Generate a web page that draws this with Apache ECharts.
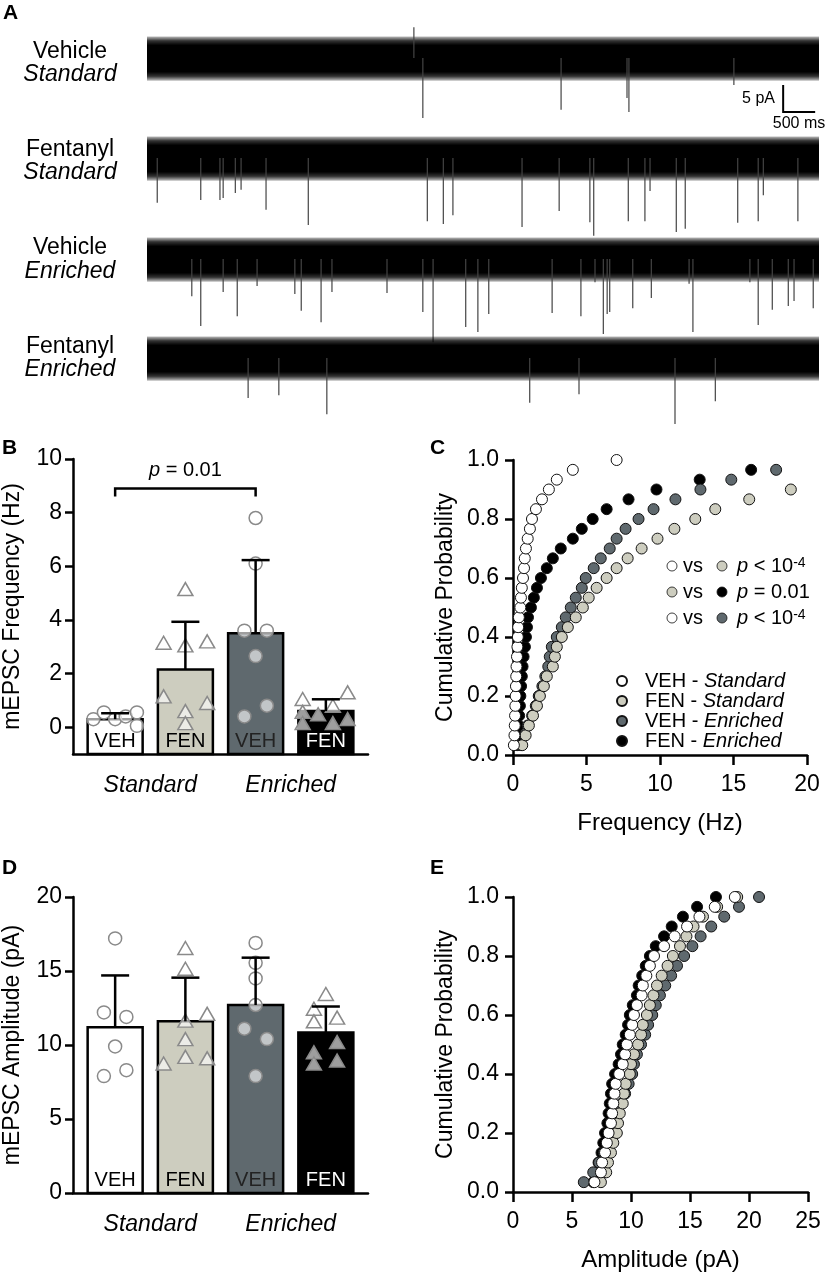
<!DOCTYPE html>
<html>
<head>
<meta charset="utf-8">
<script src="https://cdn.jsdelivr.net/npm/echarts@6.0.0/dist/echarts.min.js"></script>
<style>
  html, body { margin: 0; padding: 0; background: #fff; }
  #chart { width: 828px; height: 1276px; }
</style>
</head>
<body>
<div id="chart"></div>
<script>
// ---- panel A: example traces (time s, amplitude pA; negative = inward event) ----
const traceLength = 10.5;
const traceNames = [['Vehicle', 'Standard'], ['Fentanyl', 'Standard'], ['Vehicle', 'Enriched'], ['Fentanyl', 'Enriched']];
const traceVehStd = [[4.17, 5.7], [4.31, -11.1], [6.47, -9.6], [7.50, -7.4], [7.53, -10.0], [9.17, -5.0]];
const traceFenStd = [[0.16, -8.3], [0.84, -7.8], [1.14, -7.8], [1.19, -7.4], [1.38, -6.5], [1.47, -5.9], [1.86, -9.6],
  [2.52, -12.4], [4.38, -11.7], [4.63, -12.2], [4.78, -10.6], [5.86, -12.8], [6.44, -9.8], [6.92, -11.9], [6.98, -14.4],
  [7.52, -11.7], [7.78, -11.7], [7.86, -6.1], [8.27, -13.7], [8.41, -13.1], [9.23, -12.0], [9.55, -11.7], [9.63, -6.9], [10.17, -11.7]];
const traceVehEnr = [[0.70, -6.9], [0.84, -12.4], [1.19, -6.1], [1.41, -10.6], [1.72, -5.0], [2.31, -6.5], [2.41, -9.6],
  [2.72, -11.7], [2.89, -6.1], [3.75, -6.3], [4.31, -9.8], [4.47, -15.4], [4.98, -12.6], [5.17, -13.5], [5.34, -10.2],
  [6.33, -10.0], [6.78, -10.6], [7.00, -4.3], [7.13, -13.9], [7.19, -10.2], [7.23, -9.8], [7.59, -9.1], [7.88, -7.2],
  [8.47, -4.6], [8.53, -13.5], [9.42, -4.3], [9.55, -12.2], [9.77, -9.4], [10.02, -8.7], [10.11, -7.8], [10.41, -9.1]];
const traceFenEnr = [[1.58, -7.4], [2.06, -6.9], [2.81, -10.4], [5.98, -8.3], [6.75, -6.7], [8.25, -12.2], [8.88, -8.0]];
const scaleBarStart = [9.94, -10.0];
const scaleBarSize = [0.5, 5]; // 500 ms, 5 pA

// ---- panels B / D: per-cell values ----
const groups = ['VEH', 'FEN', 'VEH', 'FEN'];
const housing = ['Standard', 'Enriched'];
const freqMean = [0.3, 2.15, 3.5, 0.6];
const freqSD = [0.22, 1.78, 2.73, 0.44];
const freqVehStd = [0.3, 0.55, 0.3, 0.4, 0.55, 0.05];
const freqFenStd = [5.15, 3.15, 3.05, 3.2, 1.15, 0.6, 0.15, 0.9];
const freqVehEnr = [7.8, 6.1, 3.6, 3.6, 2.65, 0.4, 0.8];
const freqFenEnr = [1.05, 1.3, 0.57, 0.48, 0.8, 0.15, 0.15, 0.3];
const freqJitter = [[-0.31, -0.16, 0, 0.15, 0.31, 0.31], [0, -0.31, 0, 0.31, -0.31, 0, 0, 0.31],
  [0, 0, -0.16, 0.16, 0, -0.16, 0.16], [-0.33, 0.31, -0.33, -0.11, 0.1, -0.33, 0.1, 0.31]];
const ampMean = [11.2, 11.6, 12.7, 10.85];
const ampSD = [3.5, 2.95, 3.2, 1.75];
const ampVehStd = [17.2, 12.2, 11.9, 9.9, 7.9, 8.3];
const ampFenStd = [16.55, 15.15, 12.1, 11.65, 10.4, 8.75, 9.2, 9.1];
const ampVehEnr = [16.9, 15.55, 14.5, 12.7, 11.1, 10.4, 7.9];
const ampFenEnr = [13.45, 12.45, 11.85, 11.6, 10.2, 9.5, 8.75, 8.95];
const ampJitter = [[0, -0.16, 0.16, 0, -0.16, 0.16], [0, 0, 0.31, 0, 0, -0.31, 0, 0.31],
  [0, 0, 0, 0, -0.16, 0.16, 0], [0, -0.17, 0.16, -0.17, 0.16, -0.17, -0.17, 0.16]];
const freqSig = { from: 0, to: 2, text: '{i|p} = 0.01' };

// ---- panels C / E: cumulative distributions, level k/30 ----
const nLevels = 30;
const cumFreqVehStd = [0.06, 0.1, 0.12, 0.14, 0.16, 0.18, 0.2, 0.22, 0.24, 0.27, 0.3, 0.33, 0.35, 0.4, 0.5, 0.54, 0.6, 0.68,
  0.75, 0.8, 0.88, 1.0, 1.15, 1.29, 1.56, 1.97, 2.44, 2.98, 4.07, 7.05];
const cumFreqFenStd = [0.63, 0.86, 1.08, 1.36, 1.63, 1.83, 2.1, 2.3, 2.71, 2.85, 2.98, 3.32, 3.73, 4.27, 4.75, 5.15, 5.69,
  6.37, 7.05, 7.8, 8.75, 9.83, 10.98, 12.4, 13.76, 16.07, 18.9];
const cumFreqVehEnr = [0.55, 0.8, 1.0, 1.3, 1.55, 1.75, 2.0, 2.2, 2.4, 2.5, 2.64, 2.98, 3.32, 3.59, 3.93, 4.27, 4.68, 4.95,
  5.49, 5.97, 6.58, 7.05, 7.66, 8.54, 9.56, 11.05, 12.75, 14.85, 17.9];
const cumFreqFenEnr = [0.28, 0.33, 0.38, 0.42, 0.47, 0.5, 0.55, 0.6, 0.65, 0.72, 0.81, 0.88, 0.95, 1.02, 1.22, 1.42, 1.63,
  1.9, 2.3, 2.71, 3.25, 4.07, 4.68, 5.42, 6.37, 7.86, 9.76, 12.7, 16.2];
const cumAmpVehStd = [6.9, 7.45, 7.55, 7.8, 7.95, 8.1, 8.3, 8.4, 8.5, 8.6, 8.7, 9.0, 9.3, 9.5, 9.65, 9.9, 10.1, 10.25, 10.5,
  10.9, 11.0, 11.3, 11.6, 11.95, 12.8, 13.7, 14.75, 15.8, 17.1, 18.8];
const cumAmpFenStd = [7.45, 7.9, 8.05, 8.3, 8.5, 8.8, 8.9, 9.05, 9.3, 9.4, 9.55, 9.9, 10.0, 10.25, 10.6, 10.85, 11.0, 11.35,
  11.6, 11.9, 12.2, 12.6, 13.1, 13.55, 14.15, 14.7, 15.3, 16.1, 17.3, 19.0];
const cumAmpVehEnr = [6.0, 6.8, 7.3, 7.7, 8.0, 8.3, 8.6, 8.9, 9.2, 9.5, 9.8, 10.1, 10.25, 10.5, 10.85, 11.2, 11.45, 11.8,
  12.1, 12.45, 12.9, 13.4, 13.9, 14.5, 15.2, 15.9, 16.8, 17.9, 19.15, 20.85];
const cumAmpFenEnr = [6.8, 7.15, 7.25, 7.5, 7.65, 7.8, 8.0, 8.1, 8.2, 8.3, 8.4, 8.65, 8.95, 9.15, 9.3, 9.55, 9.75, 9.9,
  10.15, 10.5, 10.65, 10.95, 11.25, 11.6, 12.1, 12.8, 13.45, 14.4, 15.6, 17.2];
const seriesNames = ['VEH - Standard', 'FEN - Standard', 'VEH - Enriched', 'FEN - Enriched'];
const statRows = [
  { a: 0, b: 1, text: '{i|p} < 10{s|-4}' },
  { a: 1, b: 3, text: '{i|p} = 0.01' },
  { a: 0, b: 2, text: '{i|p} < 10{s|-4}' }
];

const FONT = '"Liberation Sans", Arial, sans-serif';
const fills = ['#ffffff', '#cdcdbf', '#5f696e', '#000000'];
const barText = ['#000', '#000', '#222', '#fff'];
const AXIS = { color: '#000', width: 2.5 };

const chart = echarts.init(document.getElementById('chart'), null, { renderer: 'canvas' });

// ---- trace helpers ----
const traceTops = [31, 131, 232, 331];
const traceSpikes = [traceVehStd, traceFenStd, traceVehEnr, traceFenEnr];
const bandFill = new echarts.graphic.LinearGradient(0, 0, 0, 1, [
  { offset: 0, color: 'rgba(0,0,0,0.25)' },
  { offset: 0.1, color: 'rgba(0,0,0,0.8)' },
  { offset: 0.2, color: '#000' },
  { offset: 0.8, color: '#000' },
  { offset: 0.9, color: 'rgba(0,0,0,0.8)' },
  { offset: 1, color: 'rgba(0,0,0,0.25)' }
]);

function traceSeries(i, spikes) {
  const out = [{
    type: 'custom', xAxisIndex: i, yAxisIndex: i, silent: true,
    data: [[0, traceLength]],
    renderItem: (params, api) => {
      const a = api.coord([api.value(0), 4.0]);
      const b = api.coord([api.value(1), -4.2]);
      return { type: 'rect', shape: { x: a[0], y: a[1], width: b[0] - a[0], height: b[1] - a[1] }, style: { fill: bandFill } };
    }
  }, {
    type: 'custom', xAxisIndex: i, yAxisIndex: i, silent: true,
    data: spikes,
    renderItem: (params, api) => {
      const p0 = api.coord([api.value(0), 0]);
      const p1 = api.coord([api.value(0), api.value(1)]);
      return { type: 'line', shape: { x1: p0[0], y1: p0[1], x2: p1[0], y2: p1[1] }, style: { stroke: '#444', lineWidth: 1.2 } };
    }
  }];
  if (i === 0) {
    out.push({
      type: 'custom', xAxisIndex: 0, yAxisIndex: 0, silent: true,
      data: [[scaleBarStart[0], scaleBarStart[1], scaleBarSize[0], scaleBarSize[1]]],
      renderItem: (params, api) => {
        const t = api.value(0), y = api.value(1);
        const c = api.coord([t, y]);
        const up = api.coord([t, y + api.value(3)]);
        const rt = api.coord([t + api.value(2), y]);
        return { type: 'polyline', shape: { points: [up, c, rt] }, style: { stroke: '#000', lineWidth: 2, fill: null } };
      }
    });
  }
  return out;
}

// ---- bar helpers ----
function barSeries(idx, means, sds, yBase) {
  return {
    type: 'custom', xAxisIndex: idx, yAxisIndex: idx, silent: true, z: 1,
    data: means.map((m, i) => [i, m, sds[i]]),
    renderItem: (params, api) => {
      const i = params.dataIndex;
      const base = api.coord([api.value(0), yBase]);
      const top = api.coord([api.value(0), api.value(1)]);
      const w = 55;
      return {
        type: 'group', children: [
          { type: 'rect', shape: { x: base[0] - w / 2, y: top[1], width: w, height: base[1] - top[1] },
            style: { fill: fills[i], stroke: '#000', lineWidth: 2.5 } },
          { type: 'text', style: { text: groups[i], x: base[0], y: base[1] - 3, align: 'center', verticalAlign: 'bottom',
            textAlign: 'center', textVerticalAlign: 'bottom', fill: barText[i], font: '20px ' + FONT } }
        ]
      };
    }
  };
}
function errSeries(idx, means, sds) {
  return {
    type: 'custom', xAxisIndex: idx, yAxisIndex: idx, silent: true, z: 3,
    data: means.map((m, i) => [i, m, sds[i]]),
    renderItem: (params, api) => {
      const x = api.value(0), m = api.value(1), s = api.value(2);
      const p0 = api.coord([x, m]);
      const p1 = api.coord([x, m + s]);
      return {
        type: 'group', children: [
          { type: 'line', shape: { x1: p0[0], y1: p0[1], x2: p1[0], y2: p1[1] }, style: { stroke: '#000', lineWidth: 2.5 } },
          { type: 'line', shape: { x1: p1[0] - 14, y1: p1[1], x2: p1[0] + 14, y2: p1[1] }, style: { stroke: '#000', lineWidth: 2.5 } }
        ]
      };
    }
  };
}
function dotSeries(idx, sets, jitters) {
  return sets.map((vals, g) => ({
    type: 'scatter', xAxisIndex: idx, yAxisIndex: idx, silent: true, z: 2,
    symbol: g % 2 === 0 ? 'circle' : 'triangle',
    symbolSize: g % 2 === 0 ? 13 : [15, 13],
    itemStyle: { color: 'rgba(255,255,255,0.62)', borderColor: '#8a8a8a', borderWidth: 1.5, opacity: 1 },
    data: vals.map((v, k) => [g + jitters[g][k], v])
  }));
}
function cumSeries(idx, sets) {
  // draw order: black, grey, beige, white on top
  return [3, 2, 1, 0].map(g => ({
    type: 'scatter', name: seriesNames[g], xAxisIndex: idx, yAxisIndex: idx, silent: true,
    symbol: 'circle', symbolSize: 11,
    itemStyle: { color: fills[g], borderColor: '#111', borderWidth: 1, opacity: 1 },
    data: sets[g].map((v, k) => [v, (k + 1) / nLevels])
  }));
}

// ---- axes ----
const grids = [];
const xAxes = [];
const yAxes = [];
traceTops.forEach((top, i) => {
  grids.push({ left: 147, top, width: 672, height: 113.4 });
  xAxes.push({ gridIndex: i, type: 'value', min: 0, max: traceLength, show: false });
  yAxes.push({ gridIndex: i, type: 'value', min: -16, max: 5, show: false });
});

const tickLab = { color: '#000', fontSize: 23, fontFamily: FONT };
function barXAxis(gi) {
  return {
    gridIndex: gi, type: 'value', min: -0.6, max: 3.6,
    axisLine: { show: true, onZero: false, lineStyle: AXIS },
    axisTick: { show: false }, splitLine: { show: false },
    axisLabel: { customValues: [0.5, 2.5], formatter: v => (v < 1.5 ? housing[0] : housing[1]),
      fontStyle: 'italic', color: '#000', fontSize: 23, fontFamily: FONT, margin: 20 }
  };
}
function barYAxis(gi, min, max, ticks, name) {
  return {
    gridIndex: gi, type: 'value', min, max,
    axisLine: { show: true, onZero: false, lineStyle: AXIS },
    axisTick: { show: true, length: 8, customValues: ticks, lineStyle: AXIS },
    axisLabel: Object.assign({ customValues: ticks, margin: 11 }, tickLab),
    splitLine: { show: false },
    name, nameLocation: 'middle', nameGap: 49,
    nameTextStyle: { color: '#000', fontSize: 23, fontFamily: FONT }
  };
}
function cumXAxis(gi, max, name) {
  return {
    gridIndex: gi, type: 'value', min: 0, max, interval: 5,
    axisLine: { show: true, lineStyle: AXIS },
    axisTick: { show: true, length: 10, lineStyle: AXIS },
    axisLabel: Object.assign({ margin: 18 }, tickLab),
    splitLine: { show: false },
    name, nameLocation: 'middle', nameGap: 56,
    nameTextStyle: { color: '#000', fontSize: 24, fontFamily: FONT }
  };
}
function cumYAxis(gi) {
  return {
    gridIndex: gi, type: 'value', min: 0, max: 1, interval: 0.2,
    axisLine: { show: true, lineStyle: AXIS },
    axisTick: { show: true, length: 8, lineStyle: AXIS },
    axisLabel: Object.assign({ margin: 14, formatter: v => v.toFixed(1) }, tickLab),
    splitLine: { show: false },
    name: 'Cumulative Probability', nameLocation: 'middle', nameGap: 56,
    nameTextStyle: { color: '#000', fontSize: 23, fontFamily: FONT }
  };
}

grids.push({ left: 73, top: 459, width: 295, height: 295 });   // 4: B
grids.push({ left: 513, top: 460, width: 294, height: 295 });  // 5: C
grids.push({ left: 73, top: 897, width: 295, height: 296 });   // 6: D
grids.push({ left: 513, top: 897, width: 295, height: 295 });  // 7: E
xAxes.push(barXAxis(4), cumXAxis(5, 20, 'Frequency (Hz)'), barXAxis(6), cumXAxis(7, 25, 'Amplitude (pA)'));
yAxes.push(barYAxis(4, -1, 10, [0, 2, 4, 6, 8, 10], 'mEPSC Frequency (Hz)'), cumYAxis(5),
  barYAxis(6, 0, 20, [0, 5, 10, 15, 20], 'mEPSC Amplitude (pA)'), cumYAxis(7));

// ---- series ----
let series = [];
traceSpikes.forEach((sp, i) => { series = series.concat(traceSeries(i, sp)); });
series.push(barSeries(4, freqMean, freqSD, -1));
series = series.concat(dotSeries(4, [freqVehStd, freqFenStd, freqVehEnr, freqFenEnr], freqJitter));
series.push(errSeries(4, freqMean, freqSD));
series.push({
  type: 'custom', xAxisIndex: 4, yAxisIndex: 4, silent: true, z: 3,
  data: [[freqSig.from, freqSig.to, 8.9, 8.6]],
  renderItem: (params, api) => {
    const a0 = api.coord([api.value(0), api.value(3)]);
    const a1 = api.coord([api.value(0), api.value(2)]);
    const b1 = api.coord([api.value(1), api.value(2)]);
    const b0 = api.coord([api.value(1), api.value(3)]);
    return {
      type: 'group', children: [
        { type: 'polyline', shape: { points: [a0, a1, b1, b0] }, style: { stroke: '#000', lineWidth: 2.5, fill: null } },
        { type: 'text', style: { text: freqSig.text, x: (a1[0] + b1[0]) / 2, y: a1[1] - 8, align: 'center', verticalAlign: 'bottom',
          textAlign: 'center', textVerticalAlign: 'bottom', fill: '#000', fontSize: 20, fontFamily: FONT,
          rich: { i: { fontStyle: 'italic', fontSize: 20, fontFamily: FONT } } } }
      ]
    };
  }
});
series = series.concat(cumSeries(5, [cumFreqVehStd, cumFreqFenStd, cumFreqVehEnr, cumFreqFenEnr]));
series.push(barSeries(6, ampMean, ampSD, 0));
series = series.concat(dotSeries(6, [ampVehStd, ampFenStd, ampVehEnr, ampFenEnr], ampJitter));
series.push(errSeries(6, ampMean, ampSD));
series = series.concat(cumSeries(7, [cumAmpVehStd, cumAmpFenStd, cumAmpVehEnr, cumAmpFenEnr]));

// ---- text / annotations ----
const graphic = [];
const letter = (t, x, y) => graphic.push({ type: 'text', x, y,
  style: { text: t, font: 'bold 21px ' + FONT, fill: '#000' } });
letter('A', 3, 3); letter('B', 2, 438); letter('C', 430, 438); letter('D', 2, 858); letter('E', 430, 858);

const labelY = [[52, 75], [150, 173], [248, 272], [347, 370]];
traceNames.forEach((nm, i) => {
  [0, 1].forEach(j => graphic.push({ type: 'text', x: 70, y: labelY[i][j],
    style: { text: nm[j], font: (j ? 'italic ' : '') + '23px ' + FONT, fill: '#000',
      align: 'center', verticalAlign: 'middle', textAlign: 'center', textVerticalAlign: 'middle' } }));
});
graphic.push({ type: 'text', x: 775, y: 99, style: { text: '5 pA', font: '16px ' + FONT, fill: '#000',
  align: 'right', verticalAlign: 'middle', textAlign: 'right', textVerticalAlign: 'middle' } });
graphic.push({ type: 'text', x: 799, y: 124, style: { text: '500 ms', font: '16px ' + FONT, fill: '#000',
  align: 'center', verticalAlign: 'middle', textAlign: 'center', textVerticalAlign: 'middle' } });

statRows.forEach((r, k) => {
  const y = 566 + k * 26;
  graphic.push({ type: 'circle', shape: { cx: 672, cy: y, r: 5 }, style: { fill: fills[r.a], stroke: '#111', lineWidth: 0.8 } });
  graphic.push({ type: 'text', x: 683, y, style: { text: 'vs', font: '20px ' + FONT, fill: '#000',
    verticalAlign: 'middle', textVerticalAlign: 'middle' } });
  graphic.push({ type: 'circle', shape: { cx: 722, cy: y, r: 5 }, style: { fill: fills[r.b], stroke: '#111', lineWidth: 0.8 } });
  graphic.push({ type: 'text', x: 737, y, style: { text: r.text, fontSize: 20, fontFamily: FONT, fill: '#000',
    verticalAlign: 'middle', textVerticalAlign: 'middle',
    rich: { i: { fontStyle: 'italic', fontSize: 20, fontFamily: FONT }, s: { fontSize: 14, fontFamily: FONT, verticalAlign: 'top' } } } });
});

chart.setOption({
  animation: false,
  textStyle: { fontFamily: FONT },
  grid: grids,
  xAxis: xAxes,
  yAxis: yAxes,
  legend: {
    data: seriesNames, orient: 'vertical', left: 611, top: 666,
    itemWidth: 10, itemHeight: 10, itemGap: 0, selectedMode: false,
    formatter: n => { const p = n.split(' - '); return '{n|' + p[0] + ' - }{i|' + p[1] + '}'; },
    textStyle: { color: '#000', fontSize: 20, fontFamily: FONT, padding: [0, 0, 0, 13],
      rich: { n: { fontSize: 20, fontFamily: FONT, color: '#000', lineHeight: 21 }, i: { fontSize: 20, fontStyle: 'italic', fontFamily: FONT, color: '#000', lineHeight: 21 } } }
  },
  graphic,
  series
});
window.addEventListener('resize', () => chart.resize());
</script>
</body>
</html>
